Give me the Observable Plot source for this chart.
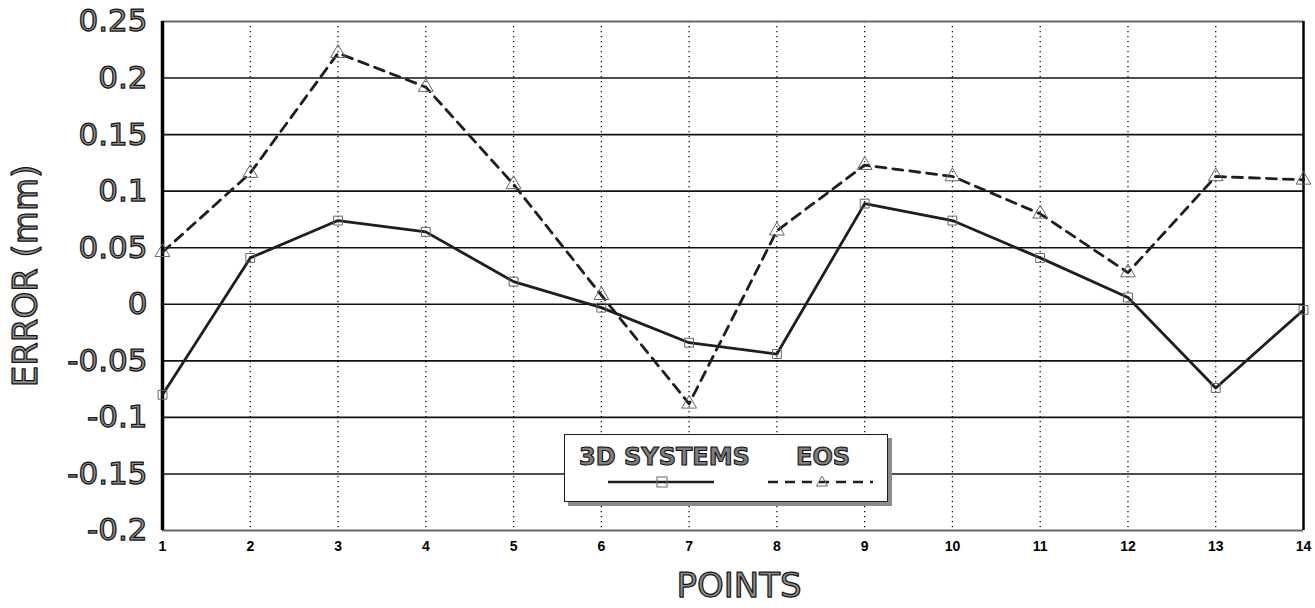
<!DOCTYPE html>
<html>
<head>
<meta charset="utf-8">
<script src="https://cdn.jsdelivr.net/npm/d3@7"></script>
<script src="https://cdn.jsdelivr.net/npm/@observablehq/plot@0.6"></script>
<style>
  html, body { margin: 0; padding: 0; background: #fff; }
  #wrap { position: relative; width: 1315px; height: 608px; overflow: hidden; }
  .chart g[aria-label="y-axis tick label"] { fill: #8e8e8e; stroke: #151515; stroke-width: 1.25px; }
  .chart g[aria-label="x-axis tick label"] { fill: #000; }
  #legend {
    position: absolute; left: 564px; top: 434px; width: 322px; height: 66px;
    border: 1.5px solid #1a1a1a; background: #fff;
    box-shadow: 4px 4px 0 #8a8a8a;
  }
  #legend .lab {
    position: absolute; top: 10px; font-family: "DejaVu Sans", sans-serif; font-weight: bold;
    font-size: 24px; color: #7e7e7e; -webkit-text-stroke: 1.1px #111; line-height: 1; white-space: nowrap;
  }
  #legend svg { position: absolute; left: 0; top: 0; }
</style>
</head>
<body>
<div id="wrap"></div>
<script>
// ---- data ----
const points = [1, 2, 3, 4, 5, 6, 7, 8, 9, 10, 11, 12, 13, 14];
const systems3D = [-0.08, 0.041, 0.074, 0.064, 0.02, -0.003, -0.034, -0.044, 0.089, 0.074, 0.041, 0.006, -0.074, -0.005];
const eos = [0.046, 0.116, 0.222, 0.192, 0.106, 0.008, -0.088, 0.065, 0.123, 0.113, 0.08, 0.028, 0.113, 0.11];
const seriesNames = ["3D SYSTEMS", "EOS"];
const yTicks = [-0.2, -0.15, -0.1, -0.05, 0, 0.05, 0.1, 0.15, 0.2, 0.25];
const yTickLabels = ["-0.2", "-0.15", "-0.1", "-0.05", "0", "0.05", "0.1", "0.15", "0.2", "0.25"];
const xTickLabels = ["1", "2", "3", "4", "5", "6", "7", "8", "9", "10", "11", "12", "13", "14"];
const yTitle = "ERROR (mm)";
const xTitle = "POINTS";

const rows3D = points.map((p, i) => ({x: p, y: systems3D[i]}));
const rowsEOS = points.map((p, i) => ({x: p, y: eos[i]}));
const innerX = points.slice(1, -1);
const innerY = yTicks.slice(1, -1);
const outlineText = {fill: "#8e8e8e", stroke: "#151515", strokeWidth: 1.25, paintOrder: "normal"};

const chart = Plot.plot({
  className: "chart",
  width: 1315,
  height: 608,
  marginLeft: 162,
  marginRight: 12,
  marginTop: 21,
  marginBottom: 78,
  style: {background: "#fff", overflow: "visible"},
  x: {type: "linear", domain: [1, 14]},
  y: {domain: [-0.2, 0.25]},
  marks: [
    Plot.ruleY(innerY, {stroke: "#111", strokeWidth: 1.6}),
    Plot.ruleX(innerX, {stroke: "#111", strokeWidth: 1.3, strokeDasharray: "1.3,3.7"}),
    Plot.ruleY([yTicks[0], yTicks[yTicks.length - 1]], {stroke: "#666", strokeWidth: 2}),
    Plot.ruleX([points[0]], {stroke: "#000", strokeWidth: 3.5}),
    Plot.ruleX([points[points.length - 1]], {stroke: "#000", strokeWidth: 2.5}),
    Plot.line(rows3D, {x: "x", y: "y", stroke: "#1e1e1e", strokeWidth: 2.8}),
    Plot.line(rowsEOS, {x: "x", y: "y", stroke: "#1e1e1e", strokeWidth: 2.8, strokeDasharray: "10,7"}),
    Plot.dot(rows3D, {x: "x", y: "y", symbol: "square", r: 5, stroke: "#666", strokeWidth: 1, fill: "none"}),
    Plot.dot(rowsEOS, {x: "x", y: "y", symbol: "triangle", r: 5.5, stroke: "#666", strokeWidth: 1, fill: "none"}),
    Plot.axisY({ticks: yTicks, tickFormat: (d) => yTickLabels[yTicks.indexOf(d)], tickSize: 0, tickPadding: 15,
      fontSize: 31, fontFamily: "DejaVu Sans", label: null}),
    Plot.axisX({ticks: points, tickFormat: (d) => xTickLabels[points.indexOf(d)], tickSize: 0, tickPadding: 11,
      fontSize: 14, fontWeight: "bold", fontFamily: "Liberation Sans", label: null}),
    Plot.text([yTitle], {frameAnchor: "left", dx: -136, rotate: -90, text: (d) => d, fontSize: 34,
      fontFamily: "DejaVu Sans", textAnchor: "middle", lineAnchor: "middle", ...outlineText}),
    Plot.text([xTitle], {frameAnchor: "bottom", dx: 6, dy: 56, text: (d) => d, fontSize: 34,
      fontFamily: "DejaVu Sans", textAnchor: "middle", lineAnchor: "middle", ...outlineText})
  ]
});

const wrap = document.getElementById("wrap");
wrap.appendChild(chart);

// legend (HTML overlay inside the plot frame)
const legend = document.createElement("div");
legend.id = "legend";
legend.innerHTML = `
  <div class="lab" style="left:14px">${seriesNames[0]}</div>
  <div class="lab" style="left:231px">${seriesNames[1]}</div>
  <svg width="322" height="66">
    <line x1="43" x2="149" y1="47" y2="47" stroke="#1e1e1e" stroke-width="2.6"/>
    <rect x="92" y="42" width="10" height="10" fill="none" stroke="#666" stroke-width="1"/>
    <line x1="203" x2="308" y1="47" y2="47" stroke="#1e1e1e" stroke-width="2.6" stroke-dasharray="10,7"/>
    <path d="M257,41 L262.5,51 L251.5,51 Z" fill="none" stroke="#666" stroke-width="1"/>
  </svg>`;
wrap.appendChild(legend);
</script>
</body>
</html>
